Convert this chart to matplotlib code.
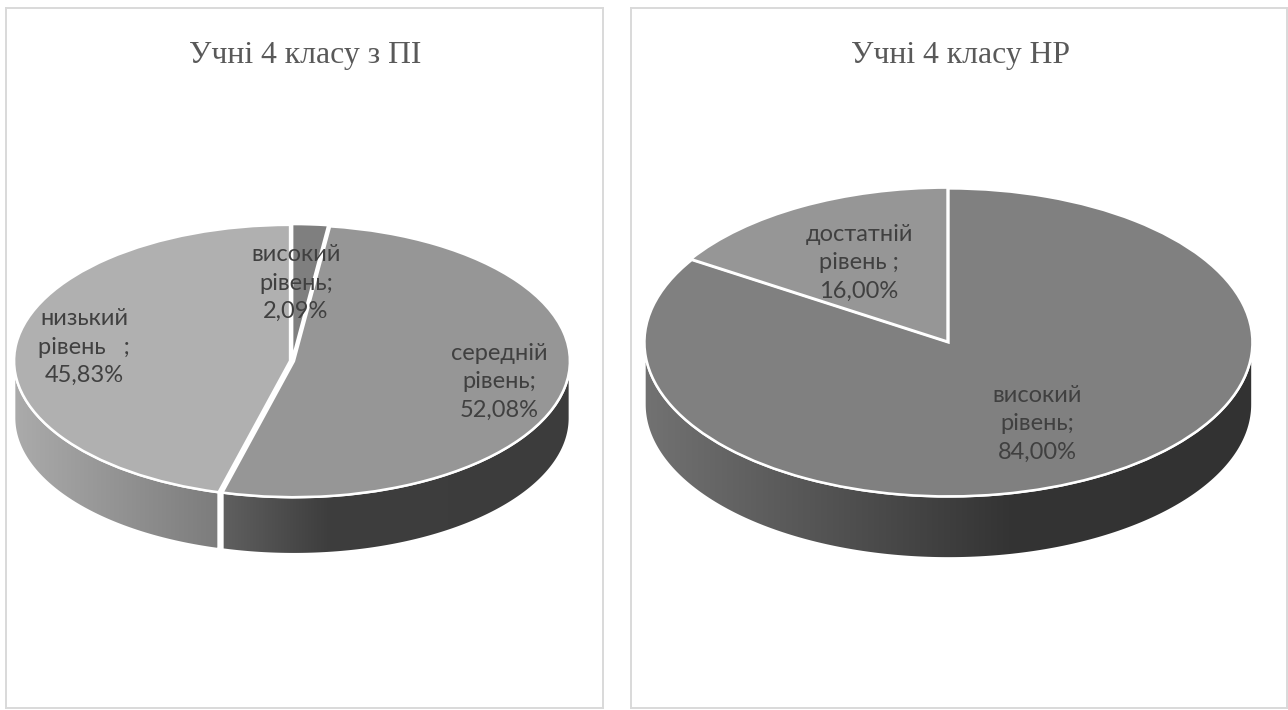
import matplotlib
matplotlib.use('Agg')
import matplotlib.pyplot as plt
import numpy as np
from matplotlib.colors import LinearSegmentedColormap
from matplotlib.patches import Polygon

plt.rcParams['font.family'] = ['Lato', 'Noto Sans', 'DejaVu Sans']

# chart data
left_title = 'Учні 4 класу з ПІ'
left_levels = ['високий\nрівень', 'середній\nрівень', 'низький\nрівень   ']
left_values = [2.09, 52.08, 45.83]
left_colors = ['#7f7f7f', '#969696', '#b0b0b0']

right_title = 'Учні 4 класу НР'
right_levels = ['високий\nрівень', 'достатній\nрівень ']
right_values = [84.00, 16.00]
right_colors = ['#808080', '#969696']

W, H = 1288, 710
fig = plt.figure(figsize=(W / 100, H / 100), dpi=100)


def side_band(ax, wedge, depth, stops):
    # rim of one slice: only the part of the slice on the front of the pie
    cx, cy = wedge.center
    for off in (-360, 0, 360):
        lo = max(wedge.theta1, 180 + off)
        hi = min(wedge.theta2, 360 + off)
        if hi <= lo:
            continue
        t = np.radians(np.linspace(lo, hi, 200))
        x = cx + np.cos(t)
        y = cy + np.sin(t)
        pts = np.r_[np.c_[x, y], np.c_[x[::-1], y[::-1] - depth]]
        band = Polygon(pts, closed=True, facecolor='none', edgecolor='white', lw=1.8, zorder=0.5)
        ax.add_patch(band)
        cmap = LinearSegmentedColormap.from_list('rim', stops)
        im = ax.imshow(np.linspace(0, 1, 256)[None, :], cmap=cmap, aspect='auto', zorder=0.4,
                       extent=(x.min(), x.max(), y.min() - depth, y.max()))
        im.set_clip_path(band)


def draw_pie(box, cx, cy, rx, ry, depth, values, colors, explode, rims, title, title_x):
    x0, y0, x1, y1 = box
    ax = fig.add_axes([x0 / W, 1 - y1 / H, (x1 - x0) / W, (y1 - y0) / H])
    wedges, _ = ax.pie(values, colors=colors, startangle=90, counterclock=False, explode=explode,
                       wedgeprops={'edgecolor': 'white', 'linewidth': 1.8})
    for w, stops in zip(wedges, rims):
        if stops:
            side_band(ax, w, depth / ry, stops)
    ax.set_aspect('auto')
    ax.set_xlim((x0 - cx) / rx, (x1 - cx) / rx)
    ax.set_ylim((cy - y1) / ry, (cy - y0) / ry)
    ax.set_frame_on(True)
    for s in ax.spines.values():
        s.set_color('#d9d9d9')
        s.set_linewidth(1.4)
    fig.text(title_x / W, 1 - 55 / H, title, ha='center', va='center', fontsize=22.8,
             family='Liberation Serif', color='#595959')


def pie_label(x, y, level, value):
    txt = f'{level};\n{value:.2f}%'.replace('.', ',')
    fig.text(x / W, 1 - y / H, txt, ha='center', va='center', fontsize=17,
             color='#404040', linespacing=1.42)


draw_pie((6, 8, 603, 708), 292, 361, 276, 136, 57, left_values, left_colors, [0.007, 0.007, 0.007],
         [None,
          [(0, '#606060'), (0.3, '#3e3e3e'), (1, '#3c3c3c')],
          ['#ababab', '#7c7c7c']],
         left_title, 305)
draw_pie((631, 8, 1287, 708), 948, 342, 304, 154, 62, right_values, right_colors, [0.003, 0.003],
         [[(0, '#727272'), (0.6, '#343434'), (1, '#323232')], None],
         right_title, 961)

pie_label(296, 283, left_levels[0], left_values[0])
pie_label(499, 382, left_levels[1], left_values[1])
pie_label(84, 347, left_levels[2], left_values[2])
pie_label(1037, 424, right_levels[0], right_values[0])
pie_label(859, 263, right_levels[1], right_values[1])

fig.savefig('out.png', dpi=100)
